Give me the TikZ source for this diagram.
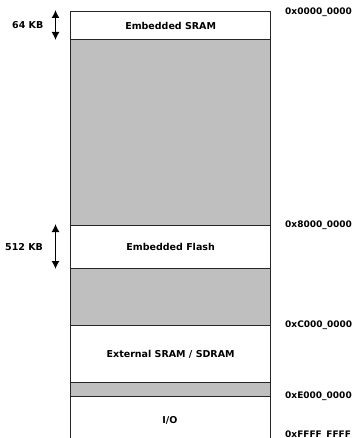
\documentclass[tikz,border=0pt]{standalone}
\usepackage{fontspec}
\setmainfont{DejaVu Sans}
\usetikzlibrary{arrows.meta}
\begin{document}
\begin{tikzpicture}[x=1bp,y=-1bp,
  every node/.style={font=\bfseries\fontsize{9.5bp}{11bp}\selectfont, inner sep=0pt},
  region/.style={draw=black!85, line width=1.3bp, fill=white, minimum width=200bp, anchor=north west},
  reserved/.style={region, fill=black!25},
  addr/.style={anchor=west, font=\bfseries\fontsize{9bp}{11bp}\selectfont},
  size/.style={anchor=west},
  span/.style={{Latex[length=8bp,width=8bp]}-{Latex[length=8bp,width=8bp]}, line width=1.3bp}
]
\clip (0,0) rectangle (354,438);
% memory regions, top to bottom
\node[region,   minimum height=28bp]  (sram)  at (70,11)  {};
\node[reserved, minimum height=186bp] (gap1)  at (70,39)  {};
\node[region,   minimum height=43bp]  (flash) at (70,225) {};
\node[reserved, minimum height=57bp]  (gap2)  at (70,268) {};
\node[region,   minimum height=57bp]  (ext)   at (70,325) {};
\node[reserved, minimum height=14bp]  (gap3)  at (70,382) {};
\node[region,   minimum height=60bp]  (io)    at (70,396) {};
% region names
\node at (sram.center)  {Embedded SRAM};
\node at (flash.center) {Embedded Flash};
\node at (ext.center)   {External SRAM / SDRAM};
\node at (170,420)      {I/O};
% sizes
\coordinate (a1) at (55.5,10);
\coordinate (a2) at (55.5,40);
\draw[span] (a1) -- (a2);
\node[size] (s64) at (12,25) {64 KB};
\coordinate (b1) at (55.5,224);
\coordinate (b2) at (55.5,269);
\draw[span] (b1) -- (b2);
\node[size] (s512) at (5,247) {512 KB};
% addresses
\node[addr] (ad0) at (285,12)  {0x0000\_0000};
\node[addr] (ad8) at (285,225) {0x8000\_0000};
\node[addr] (adC) at (285,325) {0xC000\_0000};
\node[addr] (adE) at (285,396) {0xE000\_0000};
\node[addr] (adF) at (285,435) {0xFFFF\_FFFF};
\end{tikzpicture}
\end{document}
